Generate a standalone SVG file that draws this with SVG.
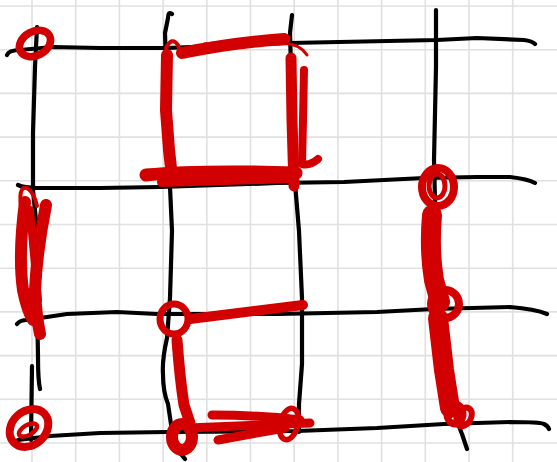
<svg xmlns="http://www.w3.org/2000/svg" width="557" height="462" viewBox="0 0 557 462">
<style>
.grid line{stroke:#e0e0e0;stroke-width:1.6}
.ink{fill:none;stroke:#000;stroke-width:4.2;stroke-linecap:round;stroke-linejoin:round}
.r{fill:none;stroke:#d20000;stroke-linecap:round;stroke-linejoin:round}
</style>
<rect width="557" height="462" fill="#fff"/>
<g id="grid" class="grid">
<line x1="32" y1="0" x2="32" y2="462"/><line x1="75.7" y1="0" x2="75.7" y2="462"/><line x1="119.4" y1="0" x2="119.4" y2="462"/><line x1="163.1" y1="0" x2="163.1" y2="462"/><line x1="206.8" y1="0" x2="206.8" y2="462"/><line x1="250.5" y1="0" x2="250.5" y2="462"/><line x1="294.2" y1="0" x2="294.2" y2="462"/><line x1="337.9" y1="0" x2="337.9" y2="462"/><line x1="381.6" y1="0" x2="381.6" y2="462"/><line x1="425.3" y1="0" x2="425.3" y2="462"/><line x1="469" y1="0" x2="469" y2="462"/><line x1="512.7" y1="0" x2="512.7" y2="462"/>
<line x1="0" y1="6" x2="557" y2="6"/><line x1="0" y1="49.7" x2="557" y2="49.7"/><line x1="0" y1="93.4" x2="557" y2="93.4"/><line x1="0" y1="137.1" x2="557" y2="137.1"/><line x1="0" y1="180.8" x2="557" y2="180.8"/><line x1="0" y1="224.5" x2="557" y2="224.5"/><line x1="0" y1="268.2" x2="557" y2="268.2"/><line x1="0" y1="311.9" x2="557" y2="311.9"/><line x1="0" y1="355.6" x2="557" y2="355.6"/><line x1="0" y1="399.3" x2="557" y2="399.3"/><line x1="0" y1="443" x2="557" y2="443"/>
</g>
<g id="connectors" class="ink">
<path d="M7,55 Q9,50 20,50 L53,47 L100,48 L167,48 L290,43 L437,40 L477,38 L524,40 Q532,41 535,44"/>
<path d="M18,185 Q24,188 37,188 L100,188 L160,187 L277,183 L344,182 L424,178 L477,177 L510,177 Q528,179 535,183"/>
<path d="M17,324 Q20,320 27,320 L67,314 L117,312 L157,314 L277,314 L377,312 L434,309 L510,307 Q535,309 547,314"/>
<path d="M18,440 L50,436 L100,433 L167,432 L297,431 L377,428 L444,424 L510,422 Q540,422 544,424 Q548,426 549,429"/>
<path d="M37,27 L35,67 L33,133 L33,190 L37,231 L37,300 L38,357 Q38,380 40,389"/>
<path d="M32,366 L31,440"/>
<path d="M172,14 Q168,11 168,18 L165,33 L167,100 L170,187 L172,231 L170,298 L167,338 Q162,360 163,374 Q163,392 168,404 L172,431 Q176,450 185,459"/>
<path d="M292,15 L290,33 L292,100 L295,183 L299,231 L302,298 L302,364 L299,404 L299,432"/>
<path d="M436,10 L436,67 L434,160 L436,240 L440,330 L452,400 Q458,425 462,434 L467,449"/>
</g>
<g id="red-marks">
<ellipse class="r" cx="35" cy="43.5" rx="16.5" ry="12" transform="rotate(-28 35 43.5)" stroke-width="7.5"/>
<path class="r" stroke-width="4" d="M166,48 Q172,36 178,45 L181,55"/>
<path class="r" stroke-width="12" d="M167,55 L166,110 L169,150 L172,177"/>
<path class="r" stroke-width="12" d="M182,53 Q230,43 284,39"/>
<path class="r" stroke-width="7" d="M205,46 L287,38"/>
<path class="r" stroke-width="3" d="M283,43 Q300,44 307,55"/>
<path class="r" stroke-width="11" d="M291,58 L292,120 L294,186"/>
<path class="r" stroke-width="8" d="M304,70 L303,120 L302,164 Q310,166 318,159"/>
<path class="r" stroke-width="13" d="M146,175 Q200,170 296,173"/>
<path class="r" stroke-width="10" d="M162,182 L292,178"/>
<path class="r" stroke-width="4" d="M22,214 Q17,185 27,188 Q34,192 37,206"/>
<path class="r" stroke-width="12" d="M25,202 Q18,255 23,290 Q27,310 33,320"/>
<path class="r" stroke-width="12" d="M46,205 Q37,250 35,290 Q36,315 40,334"/>
<path class="r" stroke-width="8" d="M30,210 L38,300"/>
<ellipse class="r" cx="29" cy="428" rx="21" ry="17" transform="rotate(-42 29 428)" stroke-width="8"/>
<ellipse class="r" cx="28" cy="430" rx="10" ry="5" transform="rotate(-30 28 430)" stroke-width="4.5"/>
<ellipse class="r" cx="174" cy="319" rx="14" ry="15" stroke-width="7"/>
<path class="r" stroke-width="10" d="M190,319 L303,305"/>
<path class="r" stroke-width="11" d="M177,340 Q180,380 184,405 L190,423"/>
<ellipse class="r" cx="182" cy="437" rx="10" ry="13" stroke-width="12"/>
<path class="r" stroke-width="9" d="M188,428 L310,423"/>
<path class="r" stroke-width="9" d="M212,415 Q260,415 300,420"/>
<path class="r" stroke-width="9" d="M218,440 L285,428"/>
<ellipse class="r" cx="289" cy="424" rx="9" ry="16" transform="rotate(15 289 424)" stroke-width="5.5"/>
<ellipse class="r" cx="438" cy="187" rx="16" ry="19" stroke-width="8"/>
<ellipse class="r" cx="437" cy="186" rx="8" ry="12" stroke-width="5"/>
<path class="r" stroke-width="20" d="M432,215 Q429,250 434,280 L440,302"/>
<ellipse class="r" cx="445" cy="304" rx="14" ry="14" stroke-width="8"/>
<path class="r" stroke-width="20" d="M438,318 L444,370 L450,408"/>
<ellipse class="r" cx="455" cy="414" rx="8" ry="10" stroke-width="7"/>
<ellipse class="r" cx="464" cy="417" rx="7" ry="10" transform="rotate(30 464 417)" stroke-width="6"/>
</g>
</svg>
